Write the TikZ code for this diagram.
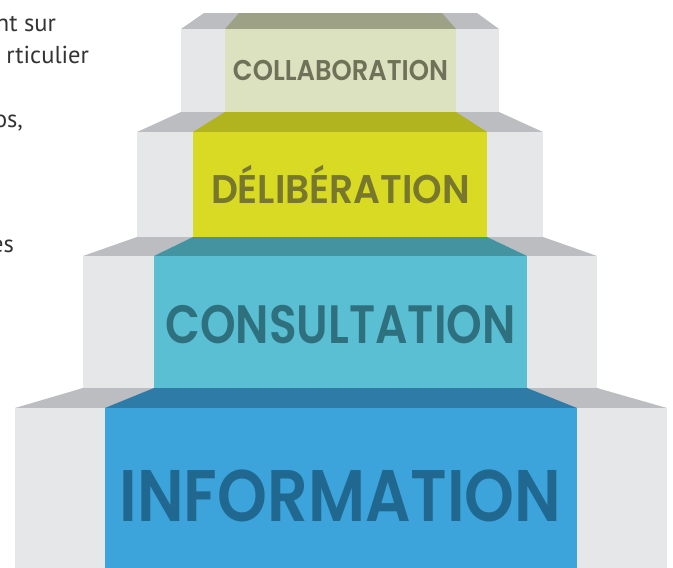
\documentclass[tikz,border=0pt]{standalone}
\usepackage{fontspec}
\usepackage{graphicx}
\setmainfont{PT Sans}
\IfFontExistsTF{Poppins SemiBold}
  {\newfontfamily\stepfont{Poppins SemiBold}}
  {\newfontfamily\stepfont{Poppins}[FakeBold=2]}

\definecolor{sidegray}{HTML}{E6E7E9}
\definecolor{topgray}{HTML}{BCBDC0}
\definecolor{notegray}{HTML}{333333}
\definecolor{collabfront}{HTML}{DCE1BF}
\definecolor{collabtop}{HTML}{9DA287}
\definecolor{collabtext}{HTML}{6F7259}
\definecolor{delibfront}{HTML}{D9DA23}
\definecolor{delibtop}{HTML}{B2B41F}
\definecolor{delibtext}{HTML}{77772D}
\definecolor{consultfront}{HTML}{5BBFD3}
\definecolor{consulttop}{HTML}{4493A1}
\definecolor{consulttext}{HTML}{2F707E}
\definecolor{infofront}{HTML}{3CA4DB}
\definecolor{infotop}{HTML}{2E7BA8}
\definecolor{infotext}{HTML}{216890}

% label squeezed to a given width, #2 = font size in pt
\newcommand{\steplabel}[3]{\resizebox{#1}{\height}{\stepfont\fontsize{#2}{#2}\selectfont #3}}

\begin{document}
\begin{tikzpicture}[
  x=1pt,
  y=-1pt,
  every node/.style={inner sep=0pt, outer sep=0pt},
  side/.style={fill=sidegray},
  tread/.style={fill=topgray},
  note/.style={font=\fontsize{24.5}{28}\selectfont, text=notegray, anchor=base east},
  label/.style={anchor=base}
]
\useasboundingbox (0,0) rectangle (673,568);

% cut-off text on the left
\node[note] (n1) at (56,31) {nt sur};
\node[note] (n2) at (89,63) {rticulier};
\node[note] (n3) at (23,127) {os,};
\node[note] (n4) at (14,252) {es};

% step 1
\fill[tread] (204,13) -- (477,13) -- (499,29) -- (181,29) -- cycle;
\fill[side] (181,29) rectangle (499,112);
\fill[collabtop] (239,13) -- (442,13) -- (456,29) -- (225,29) -- cycle;
\fill[collabfront] (225,29) rectangle (456,112);

% step 2
\fill[tread] (181,112) -- (499,112) -- (543,132) -- (137,132) -- cycle;
\fill[side] (137,132) rectangle (543,237);
\fill[delibtop] (225,112) -- (456,112) -- (487,132) -- (193,132) -- cycle;
\fill[delibfront] (193,132) rectangle (487,237);

% step 3
\fill[tread] (137,237) -- (543,237) -- (597,256) -- (83,256) -- cycle;
\fill[side] (83,256) rectangle (597,388);
\fill[consulttop] (193,237) -- (487,237) -- (527,256) -- (154,256) -- cycle;
\fill[consultfront] (154,256) rectangle (527,388);

% step 4
\fill[tread] (83,388) -- (597,388) -- (667,408) -- (15,408) -- cycle;
\fill[side] (15,408) rectangle (667,568);
\fill[infotop] (154,388) -- (527,388) -- (577,408) -- (105,408) -- cycle;
\fill[infofront] (105,408) rectangle (577,568);

\node[label, text=collabtext] (collab) at (340.5,80) {\steplabel{215pt}{28.6}{COLLABORATION}};
\node[label, text=delibtext] (delib) at (340.5,203) {\steplabel{259pt}{40}{DÉLIBÉRATION}};
\node[label, text=consulttext] (consult) at (340.5,343) {\steplabel{350pt}{54}{CONSULTATION}};
\node[label, text=infotext] (info) at (340.5,521) {\steplabel{442pt}{73}{INFORMATION}};
\end{tikzpicture}
\end{document}
